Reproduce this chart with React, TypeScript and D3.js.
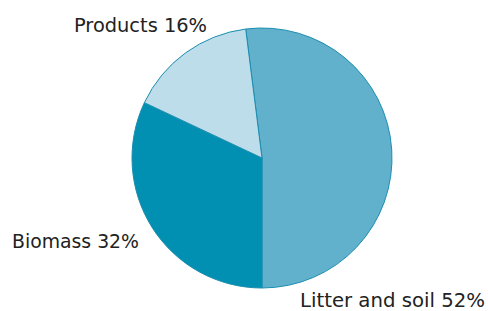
import React from "react";
import * as d3 from "d3";

const categories = ["Litter and soil", "Biomass", "Products"];
const values = [52, 32, 16];
const colors = ["#62b1cc", "#0190b1", "#bcdde9"];
const labelPos: [number, number, number][] = [
  [300, 307, 185],
  [12, 248, 127],
  [74, 32, 133],
];

export default function App() {
  const W = 488, H = 311;
  const cx = 262, cy = 158, r = 130;
  const start = -0.02 * 2 * Math.PI;
  const pie = d3.pie<number>().sort(null).startAngle(start).endAngle(start + 2 * Math.PI);
  const arcs = pie(values);
  const arc = d3.arc<d3.PieArcDatum<number>>().innerRadius(0).outerRadius(r);
  return (
    <svg width={W} height={H} style={{ position: "absolute", left: 0, top: 0 }}>
      <rect width={W} height={H} fill="#fff" />
      <g transform={`translate(${cx},${cy})`}>
        {arcs.map((a, i) => (
          <path key={i} d={arc(a) || ""} fill={colors[i]} stroke="#1a8db0" strokeWidth={1} />
        ))}
      </g>
      {categories.map((c, i) => (
        <text key={c} x={labelPos[i][0]} y={labelPos[i][1]} textLength={labelPos[i][2]}
          lengthAdjust="spacingAndGlyphs"
          fontFamily="'DejaVu Sans', sans-serif" fontSize={19} fill="#222">
          {`${c} ${values[i]}%`}
        </text>
      ))}
    </svg>
  );
}
